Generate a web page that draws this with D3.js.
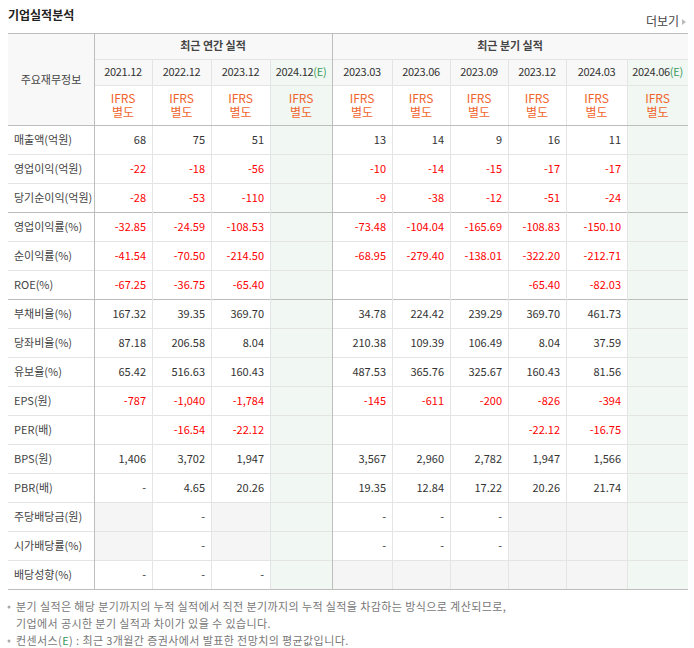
<!DOCTYPE html>
<html><head><meta charset="utf-8">
<script src="https://cdn.jsdelivr.net/npm/d3@7"></script>
<style>
body{margin:0;background:#fff;font-family:"Noto Sans CJK KR","Noto Sans",sans-serif;}
</style></head><body>
<svg id="t" width="694" height="648"></svg>
<script>
// data
const periods = ["2021.12","2022.12","2023.12","2024.12(E)","2023.03","2023.06","2023.09","2023.12","2024.03","2024.06(E)"];
const estimateCols = [3, 9];
const rowLabels = ["매출액(억원)","영업이익(억원)","당기순이익(억원)","영업이익률(%)","순이익률(%)","ROE(%)","부채비율(%)","당좌비율(%)","유보율(%)","EPS(원)","PER(배)","BPS(원)","PBR(배)","주당배당금(원)","시가배당률(%)","배당성향(%)"];
const values = [
  ["68","75","51",null,"13","14","9","16","11",null],
  ["-22","-18","-56",null,"-10","-14","-15","-17","-17",null],
  ["-28","-53","-110",null,"-9","-38","-12","-51","-24",null],
  ["-32.85","-24.59","-108.53",null,"-73.48","-104.04","-165.69","-108.83","-150.10",null],
  ["-41.54","-70.50","-214.50",null,"-68.95","-279.40","-138.01","-322.20","-212.71",null],
  ["-67.25","-36.75","-65.40",null,null,null,null,"-65.40","-82.03",null],
  ["167.32","39.35","369.70",null,"34.78","224.42","239.29","369.70","461.73",null],
  ["87.18","206.58","8.04",null,"210.38","109.39","106.49","8.04","37.59",null],
  ["65.42","516.63","160.43",null,"487.53","365.76","325.67","160.43","81.56",null],
  ["-787","-1,040","-1,784",null,"-145","-611","-200","-826","-394",null],
  [null,"-16.54","-22.12",null,null,null,null,"-22.12","-16.75",null],
  ["1,406","3,702","1,947",null,"3,567","2,960","2,782","1,947","1,566",null],
  ["-","4.65","20.26",null,"19.35","12.84","17.22","20.26","21.74",null],
  [null,"-",null,null,"-","-","-",null,null,null],
  [null,"-",null,null,"-","-","-",null,null,null],
  ["-","-","-",null,null,null,null,null,null,null]
];
const grayRows = [13, 14, 15];
const groupLabels = ["최근 연간 실적","최근 분기 실적"];
const notes = ["분기 실적은 해당 분기까지의 누적 실적에서 직전 분기까지의 누적 실적을 차감하는 방식으로 계산되므로,",
  "기업에서 공시한 분기 실적과 차이가 있을 수 있습니다.",
  "컨센서스(E) : 최근 3개월간 증권사에서 발표한 전망치의 평균값입니다."];

const svg = d3.select("#t");
const colEdges = [94,152,211,270,332,392,450,508,566,627,688];
const tLeft = 8, tRight = 688, tTop = 33, bodyTop = 125, rowH = 29;
const x = i => colEdges[i], w = i => colEdges[i+1] - colEdges[i];
const y = d3.scaleLinear().domain([0, rowLabels.length]).range([bodyTop, bodyTop + rowH*rowLabels.length]);
const line = "#e4e4e4", dark = "#bdbdbd", hdr = "#f8f8f8", est = "#f1f7f2", gray = "#f5f5f5";

svg.append("text").attr("x",8).attr("y",20).attr("font-size",12).attr("font-weight","bold").attr("fill","#222").text("기업실적분석");
svg.append("text").attr("x",679).attr("y",26).attr("font-size",12).attr("text-anchor","end").attr("fill","#444").text("더보기");
svg.append("path").attr("d","M682,19 L686,22 L682,25 Z").attr("fill","#bbb");

// header backgrounds
svg.append("rect").attr("x",tLeft).attr("y",tTop).attr("width",tRight-tLeft).attr("height",bodyTop-tTop).attr("fill",hdr);
svg.append("rect").attr("x",tLeft).attr("y",85).attr("width",tRight-tLeft).attr("height",40).attr("fill","#fff");
svg.append("rect").attr("x",tLeft).attr("y",85).attr("width",x(0)-tLeft).attr("height",40).attr("fill",hdr);
estimateCols.forEach(c => {
  svg.append("rect").attr("x",x(c)).attr("y",59).attr("width",w(c)).attr("height",y(rowLabels.length)-59).attr("fill",est);
});
// gray empty cells
grayRows.forEach(r => values[r].forEach((v,c) => {
  if (v === null && !estimateCols.includes(c))
    svg.append("rect").attr("x",x(c)).attr("y",y(r)).attr("width",w(c)).attr("height",rowH).attr("fill",gray);
}));

// grid
const g = svg.append("g").attr("shape-rendering","crispEdges");
g.append("line").attr("x1",x(0)).attr("x2",tRight).attr("y1",59).attr("y2",59).attr("stroke",line);
g.append("line").attr("x1",x(0)).attr("x2",tRight).attr("y1",85).attr("y2",85).attr("stroke",line);
d3.range(1, rowLabels.length).forEach(r => {
  const d = (r === 3 || r === 6);
  g.append("line").attr("x1",tLeft).attr("x2",tRight).attr("y1",y(r)).attr("y2",y(r)).attr("stroke",d?dark:line);
});
colEdges.slice(0,-1).forEach((cx,i) => {
  const strong = i === 0 || i === 4;
  g.append("line").attr("x1",cx).attr("x2",cx).attr("y1",strong?tTop:59).attr("y2",y(rowLabels.length))
    .attr("stroke",strong?dark:line);
});
[tTop, bodyTop, y(rowLabels.length)].forEach(yy =>
  g.append("line").attr("x1",tLeft).attr("x2",tRight).attr("y1",yy).attr("y2",yy).attr("stroke",dark));

// header texts
svg.append("text").attr("x",(tLeft+x(0))/2).attr("y",84).attr("text-anchor","middle").attr("font-size",11).attr("fill","#444").text("주요재무정보");
svg.append("text").attr("x",(x(0)+x(4))/2).attr("y",50).attr("text-anchor","middle").attr("font-size",11).attr("font-weight","bold").attr("fill","#444").text(groupLabels[0]);
svg.append("text").attr("x",(x(4)+tRight)/2).attr("y",50).attr("text-anchor","middle").attr("font-size",11).attr("font-weight","bold").attr("fill","#444").text(groupLabels[1]);
periods.forEach((p,c) => {
  const cx = x(c) + w(c)/2;
  const t = svg.append("text").attr("x",cx).attr("y",76).attr("text-anchor","middle").attr("font-size",11).attr("fill","#333").attr("letter-spacing","-0.3");
  if (p.endsWith("(E)")) { t.append("tspan").text(p.replace("(E)","")); t.append("tspan").attr("fill","#3a9a5b").text("(E)"); }
  else t.text(p);
  svg.append("text").attr("x",cx).attr("y",103).attr("text-anchor","middle").attr("font-size",12).attr("fill","#f0642c").text("IFRS");
  svg.append("text").attr("x",cx).attr("y",117).attr("text-anchor","middle").attr("font-size",12).attr("fill","#f0642c").text("별도");
});

// body
rowLabels.forEach((lab,r) => {
  const cy = y(r) + rowH/2 + 4;
  svg.append("text").attr("x",14).attr("y",cy).attr("font-size",11).attr("fill","#444").text(lab);
  values[r].forEach((v,c) => {
    if (v === null) return;
    svg.append("text").attr("x",x(c)+w(c)-6).attr("y",cy).attr("text-anchor","end").attr("font-size",11)
      .attr("fill", v.startsWith("-") && v.length > 1 ? "#ff0000" : "#333").text(v);
  });
});

// notes
notes.forEach((n,i) => {
  const ny = 611 + i*17;
  if (i !== 1) svg.append("circle").attr("cx",9).attr("cy",ny-4).attr("r",1.5).attr("fill","#aaa");
  const t = svg.append("text").attr("x",16).attr("y",ny).attr("font-size",11).attr("fill","#777").attr("letter-spacing","0.4");
  if (i === 2) { t.append("tspan").text("컨센서스("); t.append("tspan").attr("fill","#3a9a5b").text("E"); t.append("tspan").text(") : 최근 3개월간 증권사에서 발표한 전망치의 평균값입니다."); }
  else t.text(n);
});
</script></body></html>
